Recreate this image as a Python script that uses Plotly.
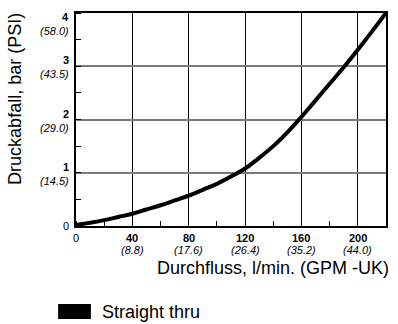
import plotly.graph_objects as go

# ---- data ----
flow_lpm = [0, 10, 20, 30, 40, 50, 60, 70, 80, 90, 100, 110, 120, 130, 140,
            150, 160, 170, 180, 190, 200, 210, 220]
drop_bar = [0.02, 0.06, 0.11, 0.17, 0.23, 0.31, 0.39, 0.48, 0.57, 0.68, 0.79,
            0.93, 1.08, 1.28, 1.50, 1.76, 2.05, 2.36, 2.67, 2.98, 3.31, 3.65, 4.0]
series_name = "Straight thru"

x_ticks = [0, 40, 80, 120, 160, 200]
x_gpm = ["", "(8.8)", "(17.6)", "(26.4)", "(35.2)", "(44.0)"]
y_ticks = [0, 1, 2, 3, 4]
y_psi = ["", "(14.5)", "(29.0)", "(43.5)", "(58.0)"]

x_title = "Durchfluss, l/min. (GPM -UK)"
y_title = "Druckabfall, bar (PSI)"

FONT = "Liberation Sans, Arial, sans-serif"
TICKFONT = dict(size=11, color="black", family=FONT)

fig = go.Figure()
fig.add_trace(go.Scatter(
    x=flow_lpm, y=drop_bar, mode="lines", name=series_name,
    line=dict(color="black", width=4, shape="spline", smoothing=1),
    showlegend=False, cliponaxis=False,
))

annotations = []
# x tick labels: bold l/min value, italic GPM value below
for v, g in zip(x_ticks, x_gpm):
    if not g:
        annotations.append(dict(x=v, y=0, xref="x", yref="paper", text=str(v),
                                showarrow=False, xanchor="center", yanchor="middle",
                                yshift=-12, font=TICKFONT))
        continue
    annotations.append(dict(x=v, y=0, xref="x", yref="paper", text=f"<b>{v}</b>",
                            showarrow=False, xanchor="center", yanchor="middle",
                            yshift=-12, font=TICKFONT))
    annotations.append(dict(x=v, y=0, xref="x", yref="paper", text=f"<i>{g}</i>",
                            showarrow=False, xanchor="center", yanchor="middle",
                            yshift=-24, font=TICKFONT))

# y tick labels: bold bar value above, italic psi value below
for v, p in zip(y_ticks, y_psi):
    if not p:
        annotations.append(dict(x=0, y=v, xref="paper", yref="y", text=str(v),
                                showarrow=False, xanchor="right", yanchor="middle",
                                xshift=-5, font=TICKFONT))
        continue
    shift = -10 if v == y_ticks[-1] else 0
    annotations.append(dict(x=0, y=v, xref="paper", yref="y", text=f"<b>{v}</b>",
                            showarrow=False, xanchor="right", yanchor="bottom",
                            xshift=-5, yshift=-2 + shift, font=TICKFONT))
    annotations.append(dict(x=0, y=v, xref="paper", yref="y", text=f"<i>{p}</i>",
                            showarrow=False, xanchor="right", yanchor="top",
                            xshift=-5, yshift=0 + shift, font=TICKFONT))

annotations.append(dict(x=1.016, y=-0.197, xref="paper", yref="paper", text=x_title,
                        showarrow=False, xanchor="right", yanchor="middle",
                        font=dict(size=18, color="black", family=FONT)))
annotations.append(dict(x=-0.1955, y=0.5986, xref="paper", yref="paper", text=y_title,
                        showarrow=False, xanchor="center", yanchor="middle", textangle=-90,
                        font=dict(size=18, color="black", family=FONT)))
annotations.append(dict(x=0.0769, y=-0.4038, xref="paper", yref="paper", text=series_name,
                        showarrow=False, xanchor="left", yanchor="middle",
                        font=dict(size=18, color="black", family=FONT)))

fig.update_layout(
    width=398, height=324,
    margin=dict(l=76, r=10, t=13, b=98),
    paper_bgcolor="white", plot_bgcolor="white",
    font=dict(family=FONT, color="black"),
    annotations=annotations,
    shapes=[dict(type="rect", xref="paper", yref="paper",
                 x0=-0.0577, x1=0.0481, y0=-0.4366, y1=-0.3662,
                 fillcolor="black", line=dict(width=0))],
)
fig.update_xaxes(
    range=[0, 220], tickmode="array", tickvals=x_ticks, showticklabels=False,
    ticks="", showgrid=True, gridcolor="black", gridwidth=1,
    showline=True, linecolor="black", linewidth=2, mirror=True,
    minor=dict(ticks="inside", ticklen=5, tickwidth=1, tickcolor="black",
               dtick=20, tick0=0, showgrid=False),
    zeroline=False, fixedrange=True,
)
fig.update_yaxes(
    range=[0, 4], tickmode="array", tickvals=y_ticks, showticklabels=False,
    ticks="", showgrid=True, gridcolor="#7a7a7a", gridwidth=2,
    showline=True, linecolor="black", linewidth=2, mirror=True,
    minor=dict(ticks="inside", ticklen=5, tickwidth=1, tickcolor="black",
               dtick=0.5, tick0=0, showgrid=False),
    zeroline=False, fixedrange=True,
)

fig.write_html("out.html", config={"displayModeBar": False})
